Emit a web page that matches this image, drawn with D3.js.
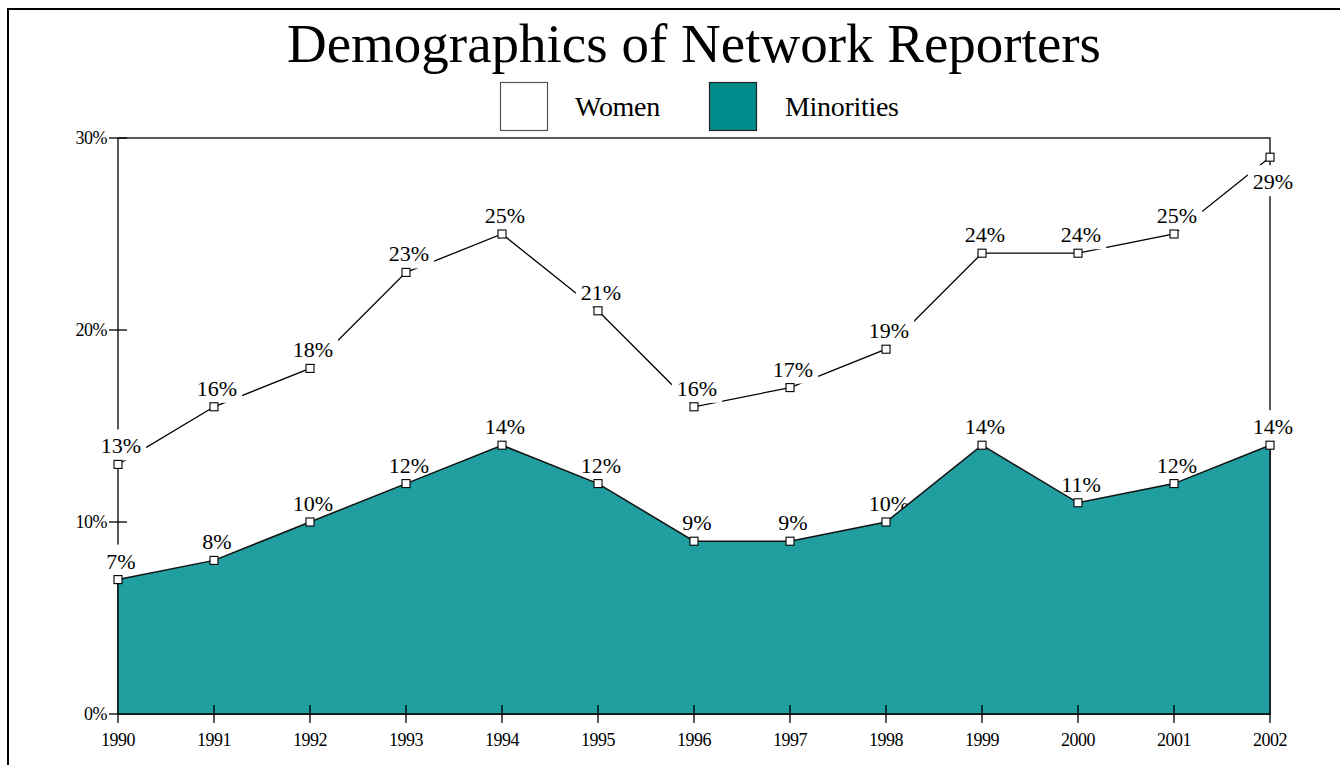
<!DOCTYPE html>
<html><head><meta charset="utf-8">
<script src="https://cdn.jsdelivr.net/npm/d3@7"></script>
<style>body{margin:0;background:#fff;} svg{display:block;} text{font-family:"Liberation Serif","Times New Roman",serif;fill:#000;}</style>
</head><body>
<svg id="c" width="1340" height="765"></svg>
<script>
const years = [1990,1991,1992,1993,1994,1995,1996,1997,1998,1999,2000,2001,2002];
const women = [13,16,18,23,25,21,16,17,19,24,24,25,29];
const minorities = [7,8,10,12,14,12,9,9,10,14,11,12,14];
const yTicks = [0,10,20,30];
const seriesNames = ["Women","Minorities"];
const seriesColors = ["#ffffff","#008b8b"];
const areaFill = "#209ea0";

const svg = d3.select("#c");
const x = d3.scaleLinear().domain([1990,2002]).range([118,1270]);
const y = d3.scaleLinear().domain([0,30]).range([714,138]);

// outer frame
svg.append("rect").attr("x",8).attr("y",9).attr("width",1400).attr("height",800)
  .attr("fill","none").attr("stroke","#000").attr("stroke-width",2);

// title
svg.append("text").attr("x",694).attr("y",62).attr("text-anchor","middle")
  .style("font-size","55px").text("Demographics of Network Reporters");

// legend
const lg = [{x:500,tx:575},{x:709,tx:785}];
seriesNames.forEach((n,i)=>{
  svg.append("rect").attr("x",lg[i].x+0.5).attr("y",82.5).attr("width",47).attr("height",48)
    .attr("fill",seriesColors[i]).attr("stroke",i?"#222":"#555").attr("stroke-width",1.2);
  svg.append("text").attr("x",lg[i].tx).attr("y",116).style("font-size","28px")
    .style("letter-spacing","-0.3px").text(n);
});

const area = d3.area().x((d,i)=>x(years[i])).y0(y(0)).y1(d=>y(d));
const line = d3.line().x((d,i)=>x(years[i])).y(d=>y(d));

// women area
svg.append("path").datum(women).attr("d",area).attr("fill","#fff");
svg.append("path").datum(women).attr("d",line).attr("fill","none").attr("stroke","#000").attr("stroke-width",1.3);

// plot frame
svg.append("rect").attr("x",x(1990)).attr("y",y(30)).attr("width",x(2002)-x(1990)).attr("height",y(0)-y(30))
  .attr("fill","none").attr("stroke","#000").attr("stroke-width",1.3);

// labels with white background
function label(xv,yv,txt,below){
  const g = svg.append("g");
  const t = g.append("text").attr("x",x(xv)+3).attr("y",below? y(yv)+32 : y(yv)-11)
    .attr("text-anchor","middle").style("font-size","22px").text(txt);
  const b = t.node().getBBox();
  g.insert("rect","text").attr("x",b.x-5).attr("y",b.y-4).attr("width",b.width+10).attr("height",b.height+6).attr("fill","#fff");
}
women.forEach((v,i)=>label(years[i],v,v+"%", v>=28));
minorities.forEach((v,i)=>label(years[i],v,v+"%", false));

// minorities area
svg.append("path").datum(minorities).attr("d",area).attr("fill",areaFill);
svg.append("path").datum(minorities).attr("d",line).attr("fill","none").attr("stroke","#111").attr("stroke-width",1.5);
svg.append("line").attr("x1",x(1990)).attr("x2",x(2002)).attr("y1",y(0)).attr("y2",y(0)).attr("stroke","#000").attr("stroke-width",1.3);
svg.append("line").attr("x1",x(1990)).attr("x2",x(1990)).attr("y1",y(0)).attr("y2",y(minorities[0])).attr("stroke","#000").attr("stroke-width",1.3);
svg.append("line").attr("x1",x(2002)).attr("x2",x(2002)).attr("y1",y(0)).attr("y2",y(minorities[12])).attr("stroke","#000").attr("stroke-width",1.3);

// y axis ticks
yTicks.forEach(t=>{
  svg.append("line").attr("x1",x(1990)-9).attr("x2",t===0?x(1990):x(1990)+9).attr("y1",y(t)).attr("y2",y(t))
    .attr("stroke","#000").attr("stroke-width",1.3);
  svg.append("text").attr("x",107).attr("y",y(t)+6).attr("text-anchor","end")
    .style("font-size","18px").style("letter-spacing","-0.5px").text(t+"%");
});
// x axis ticks
years.forEach((yr,i)=>{
  const edge = (i===0||i===years.length-1);
  svg.append("line").attr("x1",x(yr)).attr("x2",x(yr)).attr("y1",edge?y(0):y(0)-9).attr("y2",y(0)+9)
    .attr("stroke","#000").attr("stroke-width",1.3);
  svg.append("text").attr("x",x(yr)).attr("y",746).attr("text-anchor","middle")
    .style("font-size","18px").style("letter-spacing","-0.5px").text(yr);
});

// markers
const markers = years.flatMap((yr,i)=>[[yr,women[i]],[yr,minorities[i]]]);
svg.selectAll("rect.m").data(markers).enter().append("rect").attr("class","m")
  .attr("x",d=>x(d[0])-4).attr("y",d=>y(d[1])-4).attr("width",8).attr("height",8)
  .attr("fill","#fff").attr("stroke","#000").attr("stroke-width",1.1);
</script>
</body></html>
